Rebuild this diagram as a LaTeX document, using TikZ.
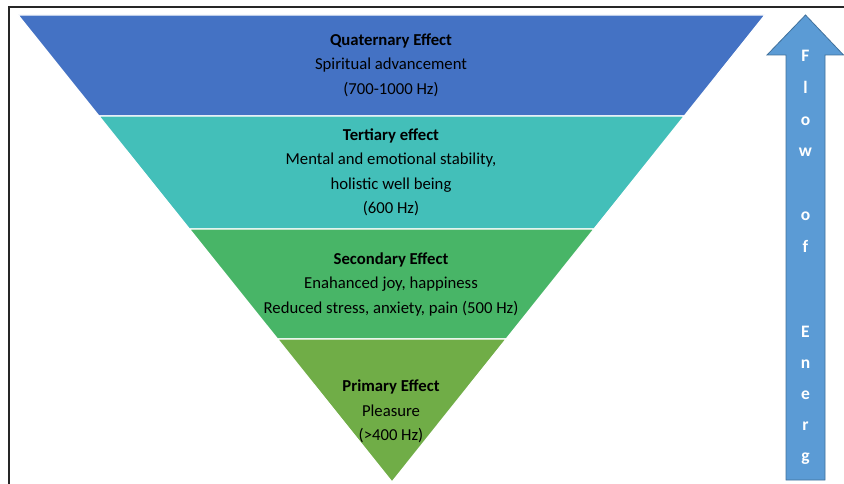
\documentclass[tikz,border=0pt]{standalone}
\usepackage{fontspec}
\setmainfont{Carlito}
\usetikzlibrary{calc}

\definecolor{quatblue}{HTML}{4472C4}
\definecolor{tertteal}{HTML}{43BFB9}
\definecolor{secgreen}{HTML}{48B567}
\definecolor{primgreen}{HTML}{70AD47}
\definecolor{flowblue}{HTML}{5B9BD5}
\definecolor{flowedge}{HTML}{41719C}

\begin{document}
\begin{tikzpicture}[x=1pt, y=-1pt,
    layer/.style={draw=white, line width=1.3pt},
    effect/.style={align=center, text=black, font=\fontsize{16.7}{24.5}\selectfont},
    letter/.style={anchor=base, text=white, font=\fontsize{17.5}{18}\selectfont\bfseries}]
\useasboundingbox (0,0) rectangle (844,484);
\draw[black!85, line width=1.2pt] (9,490) -- (9,7) -- (850,7);

% inverted pyramid
\coordinate (tl) at (18,15);
\coordinate (tr) at (765,15);
\coordinate (tip) at (392,482);
\foreach \n/\t in {1/0.2163, 2/0.4582, 3/0.6938} {
    \coordinate (l\n) at ($(tl)!\t!(tip)$);
    \coordinate (r\n) at ($(tr)!\t!(tip)$);
}
\filldraw[layer, fill=quatblue] (tl) -- (tr) -- (r1) -- (l1) -- cycle;
\filldraw[layer, fill=tertteal] (l1) -- (r1) -- (r2) -- (l2) -- cycle;
\filldraw[layer, fill=secgreen] (l2) -- (r2) -- (r3) -- (l3) -- cycle;
\filldraw[layer, fill=primgreen] (l3) -- (r3) -- (tip) -- cycle;

\node[effect] (quat) at (391,65) {\textbf{Quaternary Effect}\\Spiritual advancement\\(700-1000 Hz)};
\node[effect] (tert) at (391,172.5) {\textbf{Tertiary effect}\\Mental and emotional stability,\\holistic well being\\(600 Hz)};
\node[effect] (sec) at (391,284) {\textbf{Secondary Effect}\\Enahanced joy, happiness\\Reduced stress, anxiety, pain (500 Hz)};
\node[effect] (prim) at (391,411.5) {\textbf{Primary Effect}\\Pleasure\\(>400 Hz)};

% flow arrow
\filldraw[fill=flowblue, draw=flowedge, line width=0.8pt]
    (786,480) -- (786,55) -- (767,55) -- (805.5,15) -- (843.5,55) -- (825,55) -- (825,480) -- cycle;
\foreach \ch/\y [count=\i] in {F/62, l/94, o/125.5, w/157, o/220.5, f/252, E/337, n/368, e/399, r/430.5, g/461}
    \node[letter] (flow\i) at (805.5,\y) {\ch};
\end{tikzpicture}
\end{document}
